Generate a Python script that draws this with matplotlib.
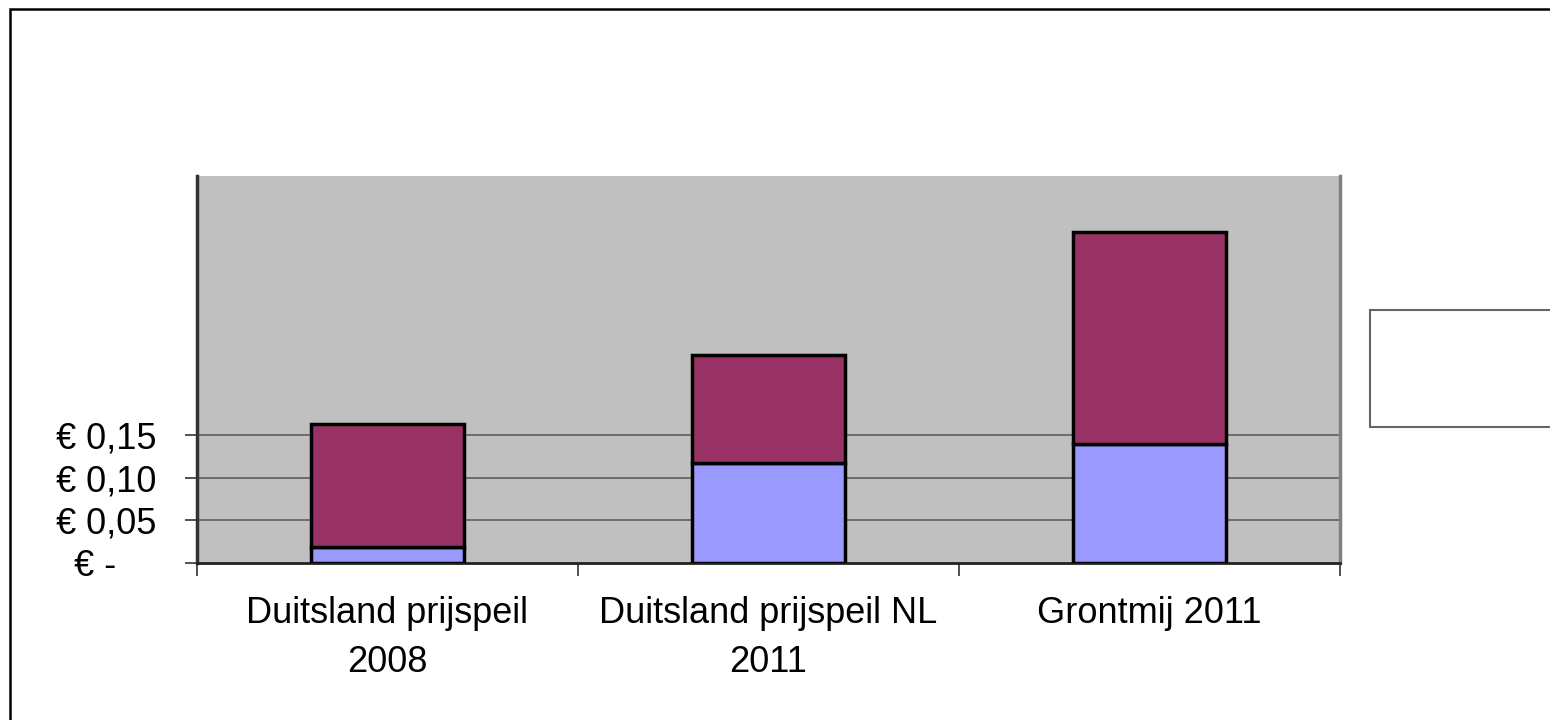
import numpy as np
import matplotlib
matplotlib.use("Agg")
import matplotlib.pyplot as plt
from matplotlib.patches import Rectangle

plt.rcParams['font.family'] = ['Liberation Sans', 'DejaVu Sans']

# gegevens
categorieen = ["Duitsland prijspeil\n2008", "Duitsland prijspeil NL\n2011", "Grontmij 2011"]
reeks_onder = [0.019, 0.117, 0.139]
reeks_boven = [0.144, 0.127, 0.249]
y_ticks = [0.0, 0.05, 0.10, 0.15]
y_labels = ["€ -    ", "€ 0,05", "€ 0,10", "€ 0,15"]

fig = plt.figure(figsize=(15.5, 7.2), dpi=100)
ax = fig.add_axes([197 / 1550, 1 - 563 / 720, (1340 - 197) / 1550, (563 - 176) / 720])
ax.set_facecolor("#C0C0C0")

x = np.arange(len(categorieen))
ax.bar(x, reeks_onder, width=0.40, color="#9999FF", edgecolor="black", linewidth=2.5, zorder=3)
ax.bar(x, reeks_boven, width=0.40, bottom=reeks_onder, color="#993366",
       edgecolor="black", linewidth=2.5, zorder=3)

ax.set_xlim(-0.5, 2.5)
ax.set_ylim(0, 0.4535)

# y-as
ax.set_yticks(y_ticks)
ax.set_yticklabels(y_labels, fontsize=26)
for yv in y_ticks[1:]:
    ax.axhline(yv, color="#555555", linewidth=1.1, zorder=1)
ax.tick_params(axis="y", length=9, width=1.2, color="#333333", pad=20)

# x-as: streepjes op de grenzen, labels in het midden
ax.set_xticks([-0.5, 0.5, 1.5, 2.5])
ax.set_xticklabels([])
ax.set_xticks(x, minor=True)
ax.set_xticklabels(categorieen, minor=True, fontsize=26, linespacing=1.5)
ax.tick_params(axis="x", which="major", length=9, width=1.2, color="#333333")
ax.tick_params(axis="x", which="minor", length=0, pad=24)

ax.spines["top"].set_visible(False)
ax.spines["left"].set_color("#333333")
ax.spines["left"].set_linewidth(2.5)
ax.spines["bottom"].set_color("#222222")
ax.spines["bottom"].set_linewidth(2)
ax.spines["right"].set_color("#808080")
ax.spines["right"].set_linewidth(2.5)

# lege legenda
fig.patches.append(Rectangle((1370 / 1550, 1 - 427 / 720), 0.2, (427 - 310) / 720,
                             transform=fig.transFigure, facecolor="white",
                             edgecolor="#666666", linewidth=1.5))
# rand van de grafiek
fig.patches.append(Rectangle((10 / 1550, -0.2), 1.2, 1.2 - 9 / 720,
                             transform=fig.transFigure, facecolor="none",
                             edgecolor="black", linewidth=1.8))

fig.savefig("out.png", dpi=100)
